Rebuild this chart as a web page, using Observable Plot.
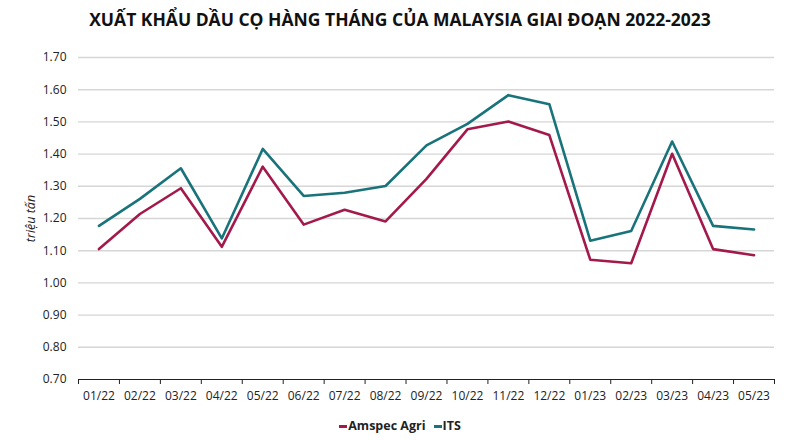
<!DOCTYPE html>
<html><head><meta charset="utf-8">
<script src="https://cdn.jsdelivr.net/npm/d3@7"></script>
<script src="https://cdn.jsdelivr.net/npm/@observablehq/plot@0.6"></script>
<style>
body{margin:0;background:#fff;font-family:"Open Sans",sans-serif;}
#title{height:40px;line-height:38px;text-align:center;font-weight:700;font-size:17.5px;color:#111;}
#chart svg{font-family:"Open Sans",sans-serif;}
#chart g[aria-label="y-axis label"] text{font-style:italic;font-size:12.5px;fill:#222;}
#legend{height:30px;display:flex;justify-content:center;align-items:center;font-weight:700;font-size:12.5px;color:#222;gap:8px;}
#legend span.sw{display:inline-block;width:8px;height:3px;vertical-align:middle;margin-right:1px;}
</style></head><body>
<div id="title">XUẤT KHẨU DẦU CỌ HÀNG THÁNG CỦA MALAYSIA GIAI ĐOẠN 2022-2023</div>
<div id="chart"></div>
<div id="legend"></div>
<script>
const months = ["01/22","02/22","03/22","04/22","05/22","06/22","07/22","08/22","09/22","10/22","11/22","12/22","01/23","02/23","03/23","04/23","05/23"];
const amspec = [1.105,1.214,1.294,1.112,1.361,1.181,1.227,1.191,1.323,1.477,1.501,1.459,1.072,1.061,1.401,1.105,1.086];
const its = [1.177,1.261,1.356,1.138,1.416,1.270,1.280,1.301,1.427,1.494,1.583,1.555,1.131,1.161,1.439,1.177,1.166];
const seriesNames = ["Amspec Agri","ITS"];
const seriesColors = ["#a3194b","#19737a"];
const yTicks = [0.70,0.80,0.90,1.00,1.10,1.20,1.30,1.40,1.50,1.60,1.70];

const rows = [];
months.forEach((m,i)=>{
  rows.push({i, month:m, value:amspec[i], series:seriesNames[0]});
  rows.push({i, month:m, value:its[i], series:seriesNames[1]});
});
const idx = months.map((m,i)=>i);
const bounds = d3.range(months.length+1).map(i=>i-0.5);

const chart = Plot.plot({
  width:800, height:370,
  marginTop:17, marginBottom:31, marginLeft:78, marginRight:26,
  style:{fontSize:"12px", color:"#222"},
  x:{type:"linear", domain:[-0.5, months.length-0.5]},
  y:{domain:[0.7,1.7]},
  color:{domain:seriesNames, range:seriesColors},
  marks:[
    Plot.ruleY(yTicks.slice(1), {stroke:"#d6d6d6", strokeWidth:1.4}),
    Plot.axisY(yTicks, {tickSize:0, tickPadding:12, tickFormat:d=>d.toFixed(2), label:"triệu tấn", labelAnchor:"center", labelArrow:"none", labelOffset:52, fill:"#222"}),
    Plot.axisX(idx, {tickSize:0, tickPadding:12, tickFormat:i=>months[i], label:null, fill:"#222"}),
    Plot.axisX(bounds, {tickSize:5, tickFormat:()=>"", label:null, stroke:"#222"}),
    Plot.ruleY([0.7], {stroke:"#222", strokeWidth:1.2}),
    Plot.line(rows, {x:"i", y:"value", stroke:"series", strokeWidth:2.6})
  ]
});
document.getElementById("chart").appendChild(chart);

const lg = document.getElementById("legend");
seriesNames.forEach((n,k)=>{
  const d = document.createElement("div");
  d.innerHTML = `<span class="sw" style="background:${seriesColors[k]}"></span>${n}`;
  lg.appendChild(d);
});
</script>
</body></html>
